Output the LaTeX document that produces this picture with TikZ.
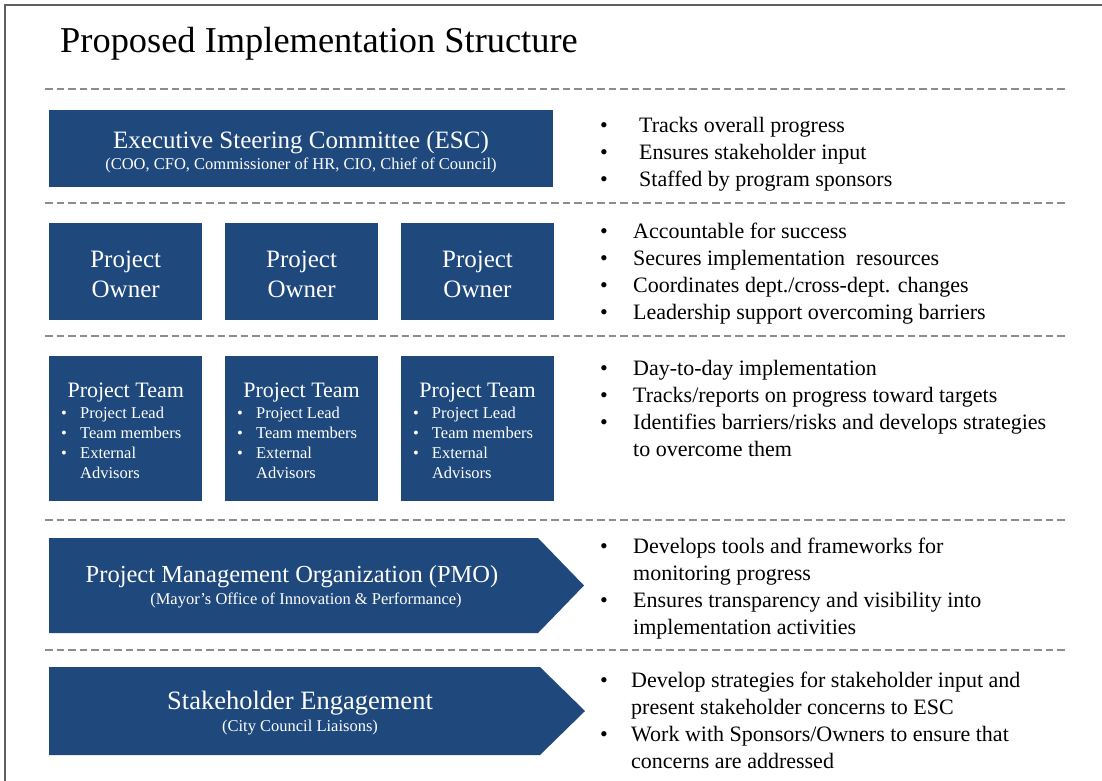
\documentclass[tikz,border=0pt]{standalone}
\usepackage{fontspec}
\setmainfont{Liberation Serif}
\usetikzlibrary{positioning}

\definecolor{boxblue}{RGB}{31,73,125}
\definecolor{rulegray}{RGB}{140,140,140}
\definecolor{framegray}{RGB}{95,95,95}
\newcommand{\fsz}[2]{\fontsize{#1}{#2}\selectfont}

\tikzset{
  unitbox/.style={fill=boxblue, inner sep=0pt, anchor=north west},
  boxtext/.style={text=white, inner sep=0pt, anchor=base},
  sepline/.style={draw=rulegray, line width=2.6pt, dash pattern=on 7.5pt off 4pt},
  duties/.style={inner sep=0pt, anchor=base west, font=\fsz{22}{27.2}},
}

\begin{document}
\begin{tikzpicture}[x=1pt, y=-1pt]
\useasboundingbox (0,0) rectangle (1102,780);
\draw[framegray, line width=2pt] (5,800) -- (5,5) -- (1120,5);

\node[inner sep=0pt, anchor=base west, font=\fsz{36.4}{40}] (title) at (60,52) {Proposed Implementation Structure};

% separators
\foreach \y in {89,203,336,520,650}
  \draw[sepline] (45,\y) -- (1068,\y);

% executive level
\node[unitbox, minimum width=504pt, minimum height=77pt] (esc) at (49,110) {};
\node[boxtext, font=\fsz{25}{28}] (esctitle) at (301,148) {Executive Steering Committee (ESC)};
\node[boxtext, font=\fsz{16.5}{19}] (escsub) at (301,169) {(COO, CFO, Commissioner of HR, CIO, Chief of Council)};

% owners and teams
\node[unitbox, minimum width=153pt, minimum height=97pt] (o1) at (49,223) {};
\node[unitbox, minimum width=153pt, minimum height=97pt, right=22.5pt of o1.north east, anchor=north west] (o2) {};
\node[unitbox, minimum width=153pt, minimum height=97pt, right=22.5pt of o2.north east, anchor=north west] (o3) {};
\node[unitbox, minimum width=153pt, minimum height=145pt] (t1) at (49,356) {};
\node[unitbox, minimum width=153pt, minimum height=145pt, right=22.5pt of t1.north east, anchor=north west] (t2) {};
\node[unitbox, minimum width=153pt, minimum height=145pt, right=22.5pt of t2.north east, anchor=north west] (t3) {};

\foreach \b in {1,2,3} {
  \node[boxtext, font=\fsz{25}{30}] (o\b a) at ([yshift=4.5pt]o\b.center) {Project};
  \node[boxtext, font=\fsz{25}{30}] (o\b b) at ([yshift=-25.5pt]o\b.center) {Owner};
  \node[boxtext, font=\fsz{22}{26}] (t\b h) at ([yshift=-41pt]t\b.north) {Project Team};
  \node[boxtext, anchor=base west, font=\fsz{16.5}{20}] (t\b l) at ([xshift=12pt,yshift=-62pt]t\b.north west)
    {\begin{tabular}[t]{@{}p{19pt}@{}l@{}}
      \textbullet & Project Lead\\
      \textbullet & Team members\\
      \textbullet & External\\
                  & Advisors
    \end{tabular}};
}

% pmo and stakeholder arrows
\fill[boxblue] (49,538) -- (538,538) -- (584,585.5) -- (538,633) -- (49,633) -- cycle;
\node[boxtext, font=\fsz{24.5}{28}] (pmo) at (292,582) {Project Management Organization (PMO)};
\node[boxtext, font=\fsz{16.5}{19}] (pmosub) at (306,604) {(Mayor's Office of Innovation \& Performance)};

\fill[boxblue] (49,667) -- (540,667) -- (585,711) -- (540,755) -- (49,755) -- cycle;
\node[boxtext, font=\fsz{26.5}{30}] (stake) at (300,709) {Stakeholder Engagement};
\node[boxtext, font=\fsz{16.5}{19}] (stakesub) at (300,731) {(City Council Liaisons)};

% duties per level
\node[duties] (escduty) at (600,132) {\begin{tabular}[t]{@{}p{39pt}@{}l@{}}
  \textbullet & Tracks overall progress\\
  \textbullet & Ensures stakeholder input\\
  \textbullet & Staffed by program sponsors
\end{tabular}};
\node[duties] (ownerduty) at (600,238) {\begin{tabular}[t]{@{}p{33pt}@{}l@{}}
  \textbullet & Accountable for success\\
  \textbullet & Secures implementation\ \ resources\\
  \textbullet & Coordinates dept./cross-dept. changes\\
  \textbullet & Leadership support overcoming barriers
\end{tabular}};
\node[duties] (teamduty) at (600,375) {\begin{tabular}[t]{@{}p{33pt}@{}l@{}}
  \textbullet & Day-to-day implementation\\
  \textbullet & Tracks/reports on progress toward targets\\
  \textbullet & Identifies barriers/risks and develops strategies\\
              & to overcome them
\end{tabular}};
\node[duties] (pmoduty) at (600,553) {\begin{tabular}[t]{@{}p{33pt}@{}l@{}}
  \textbullet & Develops tools and frameworks for\\
              & monitoring progress\\
  \textbullet & Ensures transparency and visibility into\\
              & implementation activities
\end{tabular}};
\node[duties] (stakeduty) at (600,687) {\begin{tabular}[t]{@{}p{31pt}@{}l@{}}
  \textbullet & Develop strategies for stakeholder input and\\
              & present stakeholder concerns to ESC\\
  \textbullet & Work with Sponsors/Owners to ensure that\\
              & concerns are addressed
\end{tabular}};
\end{tikzpicture}
\end{document}
